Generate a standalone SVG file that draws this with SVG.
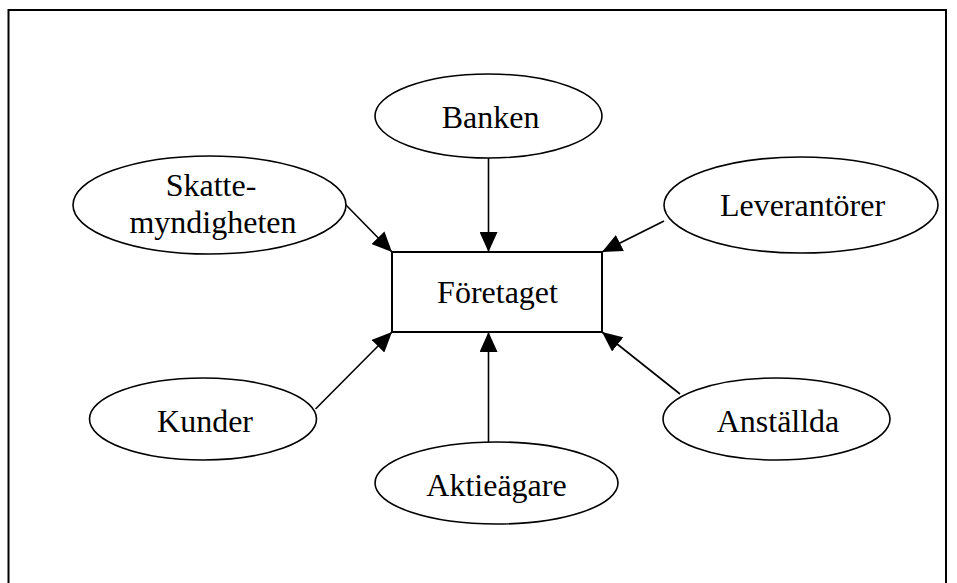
<svg xmlns="http://www.w3.org/2000/svg" width="957" height="583" viewBox="0 0 957 583">
<style>
  .node ellipse, .node rect { fill: #fff; stroke: #000; stroke-width: 1.6; }
  .node rect { stroke-width: 2; }
  text { font-family: "Liberation Serif", "Times New Roman", serif; font-size: 32px; fill: #000; text-anchor: middle; }
  .edges line { stroke: #000; stroke-width: 1.6; marker-end: url(#ah); }
</style>
<defs>
  <marker id="ah" markerUnits="userSpaceOnUse" markerWidth="20" markerHeight="18" refX="20" refY="9" orient="auto">
    <path d="M0,0 L20,9 L0,18 z" fill="#000"/>
  </marker>
</defs>
<rect x="0" y="0" width="957" height="583" fill="#fff"/>
<rect id="frame" x="8.5" y="10" width="937.5" height="590" fill="none" stroke="#000" stroke-width="2"/>
<g class="edges" id="connectors">
  <line x1="345" y1="204" x2="392" y2="252"/>
  <line x1="488.5" y1="158" x2="488.5" y2="252"/>
  <line x1="664" y1="221" x2="602" y2="252"/>
  <line x1="315.5" y1="409" x2="392" y2="332"/>
  <line x1="488.5" y1="442" x2="488.5" y2="332"/>
  <line x1="680" y1="394" x2="602" y2="332"/>
</g>
<g class="node" id="foretaget">
  <rect x="392" y="252" width="210" height="80"/>
  <text x="497.5" y="303">Företaget</text>
</g>
<g class="node" id="banken">
  <ellipse cx="488.5" cy="116" rx="113.5" ry="42"/>
  <text x="490.5" y="128">Banken</text>
</g>
<g class="node" id="skattemyndigheten">
  <ellipse cx="209.5" cy="205" rx="136.5" ry="49"/>
  <text x="211" y="196">Skatte-</text>
  <text x="213" y="233">myndigheten</text>
</g>
<g class="node" id="leverantorer">
  <ellipse cx="801" cy="205" rx="137" ry="48"/>
  <text x="802.5" y="216">Leverantörer</text>
</g>
<g class="node" id="kunder">
  <ellipse cx="203" cy="419" rx="113.5" ry="41"/>
  <text x="205" y="431.5">Kunder</text>
</g>
<g class="node" id="aktieagare">
  <ellipse cx="496.5" cy="483" rx="121.5" ry="41"/>
  <text x="496.5" y="495.5">Aktieägare</text>
</g>
<g class="node" id="anstallda">
  <ellipse cx="776.5" cy="419" rx="113.5" ry="41"/>
  <text x="778" y="431.5">Anställda</text>
</g>
</svg>
